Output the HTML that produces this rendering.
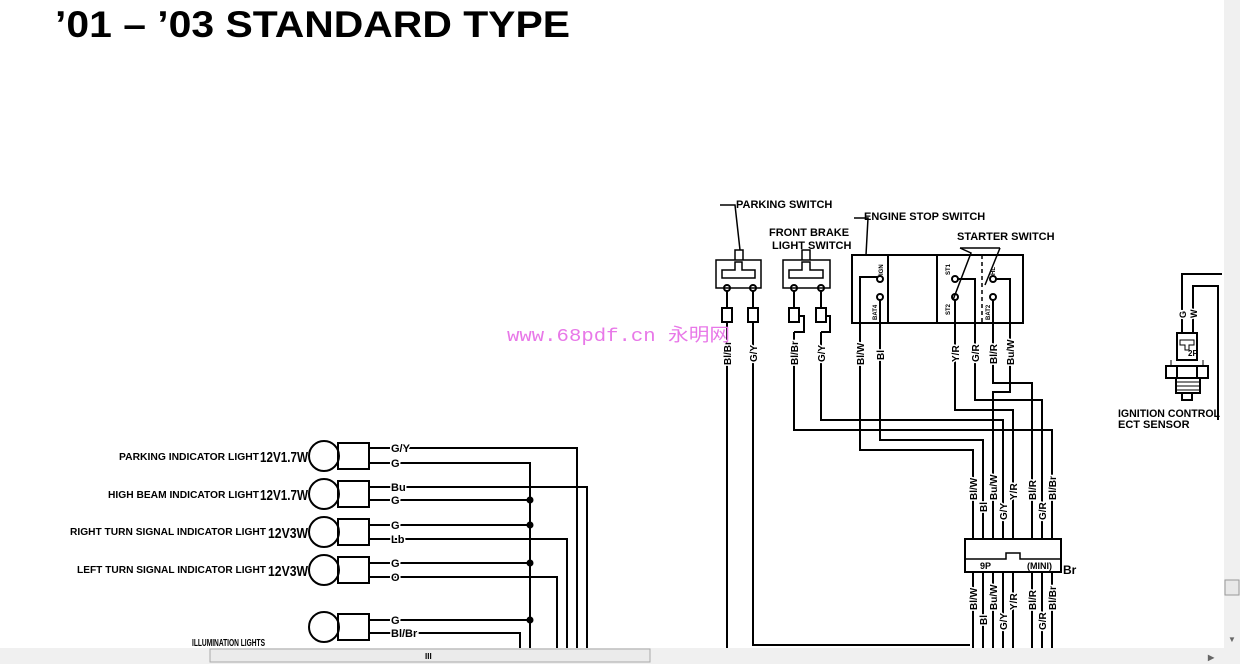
<!DOCTYPE html>
<html><head><meta charset="utf-8"><style>
html,body{margin:0;padding:0;background:#fff;width:1240px;height:664px;overflow:hidden}
svg{display:block}
text{font-family:"Liberation Sans",sans-serif;font-weight:bold;fill:#000}
</style></head><body>
<svg width="1240" height="664" viewBox="0 0 1240 664" xmlns="http://www.w3.org/2000/svg">
<rect width="1240" height="664" fill="#fff"/>
<text x="55" y="37" font-size="37" textLength="515" lengthAdjust="spacingAndGlyphs">’01 – ’03 STANDARD TYPE</text>

<g fill="none" stroke="#000" stroke-width="2">
<circle cx="324" cy="456" r="15"/><rect x="338" y="443" width="31" height="26"/>
<circle cx="324" cy="494" r="15"/><rect x="338" y="481" width="31" height="26"/>
<circle cx="324" cy="532" r="15"/><rect x="338" y="519" width="31" height="26"/>
<circle cx="324" cy="570" r="15"/><rect x="338" y="557" width="31" height="26"/>
<circle cx="324" cy="627" r="15"/><rect x="338" y="614" width="31" height="26"/>
<path d="M369 448H577V648"/>
<path d="M369 463H530V648"/>
<path d="M369 487H587V648"/>
<path d="M369 500H530"/>
<path d="M369 525H530"/>
<path d="M369 539H567V648"/>
<path d="M369 563H530"/>
<path d="M369 577H557V648"/>
<path d="M369 620H530"/>
<path d="M369 633H520V648"/>

<path d="M716 260H761V288H716Z M735 260V250H743V260 M722 278H755V270H742V262H735V270H722Z" stroke-width="1.5"/>
<path d="M720 205H735L740 250" stroke-width="1.5"/>
<circle cx="727" cy="288" r="3"/><circle cx="753" cy="288" r="3"/>
<rect x="722" y="308" width="10" height="14"/><rect x="748" y="308" width="10" height="14"/>
<path d="M727 291V308M753 291V308"/>
<path d="M727 322V648M753 322V645H970"/>
<path d="M783 260H830V288H783Z M802 260V250H810V260 M789 278H823V270H810V262H802V270H789Z" stroke-width="1.5"/>
<circle cx="794" cy="288" r="3"/><circle cx="821" cy="288" r="3"/>
<rect x="789" y="308" width="10" height="14"/><rect x="816" y="308" width="10" height="14"/>
<path d="M794 291V308M821 291V308M799 316H804V332H794M826 316H830V332H821"/>
<path d="M794 332V430H1052V540"/>
<path d="M821 332V420H1003V540"/>
<rect x="852" y="255" width="171" height="68"/>
<path d="M888 255V323M937 255V323"/>
<path d="M982 255V323" stroke-dasharray="4 3" stroke-width="1.5"/>
<path d="M854 218H868L866 255" stroke-width="1.5"/>
<path d="M960 248L971 253L953 300 M1000 248L985 285" stroke-width="1.5"/>
<path d="M960 248L1000 248" stroke-width="1.5"/>
<circle cx="880" cy="279" r="3"/><circle cx="880" cy="297" r="3"/>
<circle cx="955" cy="279" r="3"/><circle cx="955" cy="297" r="3"/>
<circle cx="993" cy="279" r="3"/><circle cx="993" cy="297" r="3"/>
<path d="M860 345V277H877M880 300V345M958 279H975V345M996 279H1010V345"/>
<path d="M860 345V450H973V540"/>
<path d="M880 345V440H983V540"/>
<path d="M955 300V410H1013V540"/>
<path d="M975 345V400H1042V540"/>
<path d="M993 300V383H1032V540"/>
<path d="M1010 345V392H993V540"/>
<rect x="965" y="539" width="96" height="33"/>
<path d="M966 559H1006V553H1020V559H1060" stroke-width="1.5"/>
<path d="M973 572V648M983 572V648M993 572V648M1003 572V648M1013 572V648M1032 572V648M1042 572V648M1052 572V648"/>
<path d="M1182 333V274H1222M1193 333V286H1218V420"/>
<rect x="1177" y="333" width="20" height="27"/>
<path d="M1180 340H1194V345H1189V350H1185V345H1180Z" stroke-width="1"/>
<rect x="1166" y="366" width="42" height="12"/>
<path d="M1177 366V378M1197 366V378"/>
<rect x="1176" y="378" width="24" height="15"/>
<path d="M1176 382H1200M1176 386H1200M1176 390H1200" stroke-width="1"/>
<rect x="1182" y="393" width="10" height="7"/>
<path d="M1171 360V366M1203 360V366" stroke-width="1"/>
</g>
<g fill="#000">
<circle cx="530" cy="500" r="3.5"/><circle cx="530" cy="525" r="3.5"/><circle cx="530" cy="563" r="3.5"/><circle cx="530" cy="620" r="3.5"/>
</g>

<g font-size="10">
<text x="119" y="460" textLength="140" lengthAdjust="spacingAndGlyphs">PARKING INDICATOR LIGHT</text>
<text x="108" y="498" textLength="151" lengthAdjust="spacingAndGlyphs">HIGH BEAM INDICATOR LIGHT</text>
<text x="70" y="535" textLength="196" lengthAdjust="spacingAndGlyphs">RIGHT TURN SIGNAL INDICATOR LIGHT</text>
<text x="77" y="573" textLength="189" lengthAdjust="spacingAndGlyphs">LEFT TURN SIGNAL INDICATOR LIGHT</text>
<text x="192" y="646" textLength="73" lengthAdjust="spacingAndGlyphs">ILLUMINATION LIGHTS</text>
</g>
<g font-size="15">
<text x="260" y="462" textLength="48" lengthAdjust="spacingAndGlyphs">12V1.7W</text>
<text x="260" y="500" textLength="48" lengthAdjust="spacingAndGlyphs">12V1.7W</text>
<text x="268" y="538" textLength="40" lengthAdjust="spacingAndGlyphs">12V3W</text>
<text x="268" y="576" textLength="40" lengthAdjust="spacingAndGlyphs">12V3W</text>
</g>
<g font-size="11" stroke="#fff" stroke-width="3" paint-order="stroke">
<text x="391" y="452">G/Y</text><text x="391" y="467">G</text>
<text x="391" y="491">Bu</text><text x="391" y="504">G</text>
<text x="391" y="529">G</text><text x="391" y="543">Lb</text>
<text x="391" y="567">G</text><text x="391" y="581">O</text>
<text x="391" y="624">G</text><text x="391" y="637">Bl/Br</text>
</g>

<g font-size="11">
<text x="736" y="208">PARKING SWITCH</text>
<text x="769" y="236">FRONT BRAKE</text>
<text x="772" y="249">LIGHT SWITCH</text>
<text x="864" y="220">ENGINE STOP SWITCH</text>
<text x="957" y="240">STARTER SWITCH</text>
<text x="1118" y="417" textLength="102" lengthAdjust="spacingAndGlyphs">IGNITION CONTROL</text>
<text x="1118" y="428">ECT SENSOR</text>
<text x="1063" y="574" font-size="12">Br</text>
<text x="980" y="569" font-size="9" font-weight="normal">9P</text>
<text x="1027" y="569" font-size="9" font-weight="normal">(MINI)</text>
<text x="1188" y="356" font-size="8">2P</text>
</g>
<g font-size="10" stroke="#fff" stroke-width="3" paint-order="stroke">
<text transform="translate(731,365) rotate(-90)">Bl/Br</text>
<text transform="translate(757,362) rotate(-90)">G/Y</text>
<text transform="translate(798,365) rotate(-90)">Bl/Br</text>
<text transform="translate(825,362) rotate(-90)">G/Y</text>
<text transform="translate(864,365) rotate(-90)">Bl/W</text>
<text transform="translate(884,360) rotate(-90)">Bl</text>
<text transform="translate(959,362) rotate(-90)">Y/R</text>
<text transform="translate(979,362) rotate(-90)">G/R</text>
<text transform="translate(997,364) rotate(-90)">Bl/R</text>
<text transform="translate(1014,365) rotate(-90)">Bu/W</text>
<text transform="translate(1186,318) rotate(-90)" font-size="9">G</text>
<text transform="translate(1197,318) rotate(-90)" font-size="9">W</text>
<text transform="translate(977,500) rotate(-90)">Bl/W</text>
<text transform="translate(987,512) rotate(-90)">Bl</text>
<text transform="translate(997,500) rotate(-90)">Bu/W</text>
<text transform="translate(1007,520) rotate(-90)">G/Y</text>
<text transform="translate(1017,500) rotate(-90)">Y/R</text>
<text transform="translate(1036,500) rotate(-90)">Bl/R</text>
<text transform="translate(1046,520) rotate(-90)">G/R</text>
<text transform="translate(1056,500) rotate(-90)">Bl/Br</text>
<text transform="translate(977,610) rotate(-90)">Bl/W</text>
<text transform="translate(987,625) rotate(-90)">Bl</text>
<text transform="translate(997,610) rotate(-90)">Bu/W</text>
<text transform="translate(1007,630) rotate(-90)">G/Y</text>
<text transform="translate(1017,610) rotate(-90)">Y/R</text>
<text transform="translate(1036,610) rotate(-90)">Bl/R</text>
<text transform="translate(1046,630) rotate(-90)">G/R</text>
<text transform="translate(1056,610) rotate(-90)">Bl/Br</text>
</g>
<g font-size="6" font-weight="normal">
<text transform="translate(883,275) rotate(-90)">IGN</text>
<text transform="translate(877,320) rotate(-90)">BAT4</text>
<text transform="translate(950,275) rotate(-90)">ST1</text>
<text transform="translate(950,315) rotate(-90)">ST2</text>
<text transform="translate(995,275) rotate(-90)">HL</text>
<text transform="translate(990,320) rotate(-90)">BAT2</text>
</g>
<text x="507" y="341" font-size="18" font-weight="normal" textLength="223" lengthAdjust="spacingAndGlyphs" style="font-family:'Liberation Mono','Noto Sans CJK SC',monospace;fill:#e878e8;font-weight:normal">www.68pdf.cn 永明网</text>

<rect x="1224" y="0" width="16" height="664" fill="#f0f0f0"/>
<rect x="1225" y="580" width="14" height="15" fill="#e8e8e8" stroke="#999"/>
<text x="1228" y="642" font-size="8" style="fill:#666">▼</text>
<rect x="0" y="648" width="1224" height="16" fill="#f0f0f0"/>
<rect x="210" y="649" width="440" height="13" fill="#ebebeb" stroke="#aaa"/>
<text x="425" y="659" font-size="8" font-weight="normal">III</text>
<text x="1208" y="660" font-size="8" style="fill:#666">▶</text>
</svg>
</body></html>
